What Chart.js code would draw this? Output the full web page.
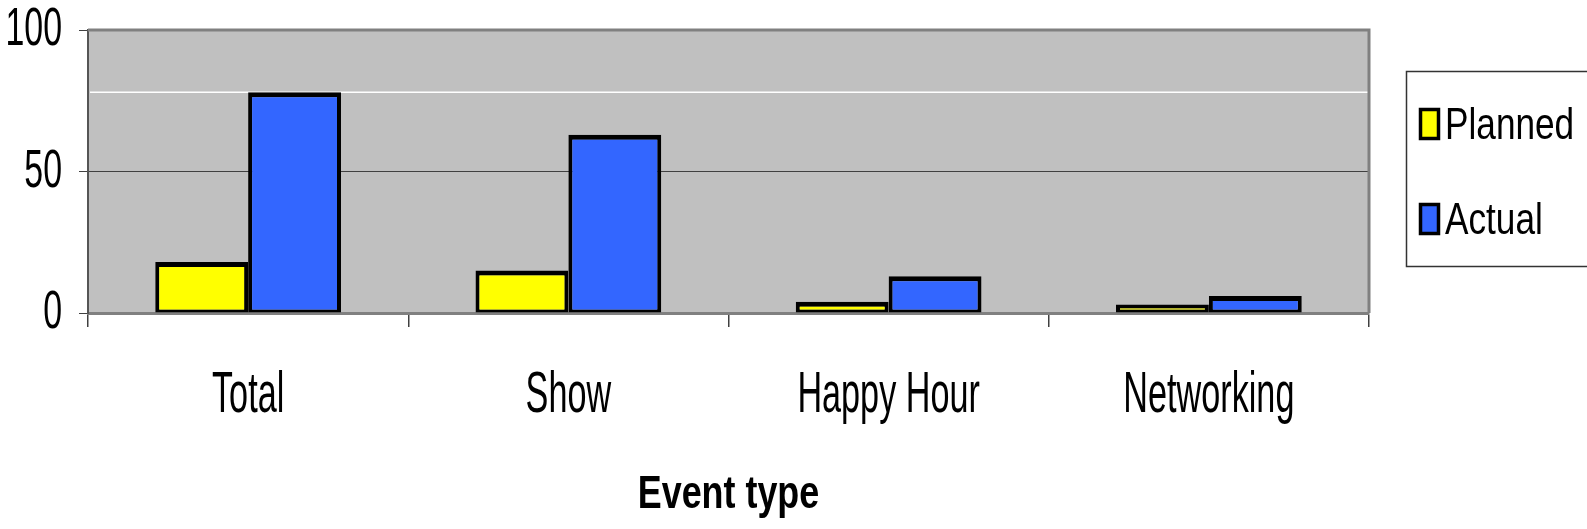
<!DOCTYPE html>
<html>
<head>
<meta charset="utf-8">
<script src="https://cdn.jsdelivr.net/npm/chart.js@4"></script>
<style>
	html, body { margin: 0; padding: 0; background: #fff; }
	#main { width: 1587px; height: 529px; }
</style>
</head>
<body>
<div id="main"><canvas id="chart" width="1587" height="529"></canvas></div>
<script>
const categories = ["Total", "Show", "Happy Hour", "Networking"]
const planned = [18, 15, 4, 3]
const actual = [78, 63, 13, 6]
const yTicks = [0, 50, 100]
const xTitle = "Event type"

const fontFamily = "'Liberation Sans', Arial, sans-serif"

// the original uses a squashed Arial, canvas can do that with a scale
function squeezed(ctx, text, x, y, size, sx, align, bold) {
	ctx.save()
	ctx.font = (bold ? "bold " : "") + size + "px " + fontFamily
	ctx.fillStyle = "#000"
	ctx.textBaseline = "alphabetic"
	ctx.textAlign = align
	ctx.translate(x, y)
	ctx.scale(sx, 1)
	ctx.fillText(text, 0, 0)
	ctx.restore()
}

// grey plot area, its border and the odd white line Excel left behind
const plotArea = {
	id: "plotArea",
	beforeDraw(chart) {
		const {ctx, chartArea: a} = chart
		ctx.save()
		ctx.fillStyle = "#c0c0c0"
		ctx.fillRect(a.left, a.top, a.right - a.left, a.bottom - a.top)
		ctx.restore()
	},
	beforeDatasetsDraw(chart) {
		const {ctx, chartArea: a} = chart
		const y = chart.scales.y.getPixelForValue(actual[0])
		ctx.save()
		ctx.strokeStyle = "#ffffff"
		ctx.lineWidth = 1.5
		ctx.beginPath()
		ctx.moveTo(a.left + 2, y)
		ctx.lineTo(a.right, y)
		ctx.stroke()
		ctx.restore()
	},
	afterDraw(chart) {
		const {ctx, chartArea: a} = chart
		ctx.save()
		ctx.strokeStyle = "#808080"
		ctx.lineWidth = 3
		ctx.beginPath()
		ctx.moveTo(a.left, a.top)
		ctx.lineTo(a.right, a.top)
		ctx.lineTo(a.right, a.bottom)
		ctx.stroke()
		ctx.restore()
	}
}

// tick labels and axis title, placed from the scales
const axisText = {
	id: "axisText",
	afterDraw(chart) {
		const ctx = chart.ctx
		const x = chart.scales.x
		const y = chart.scales.y
		categories.forEach((label, i) => {
			squeezed(ctx, label, x.getPixelForTick(i), 412, 57, 0.6, "center")
		})
		yTicks.forEach(v => {
			squeezed(ctx, String(v), 62, y.getPixelForValue(v) + 15, 53, 0.64, "right")
		})
		squeezed(ctx, xTitle, (x.left + x.right) / 2, 508, 46, 0.78, "center", true)
	}
}

// legend box drawn by hand, Excel style
const boxLegend = {
	id: "boxLegend",
	afterDraw(chart) {
		const ctx = chart.ctx
		ctx.save()
		ctx.strokeStyle = "#333"
		ctx.lineWidth = 1.5
		ctx.strokeRect(1406.5, 71.5, 182, 195)
		chart.data.datasets.forEach((ds, i) => {
			const cy = 124 + i * 95
			ctx.fillStyle = ds.backgroundColor
			ctx.fillRect(1419, cy - 16, 21, 32)
			ctx.strokeStyle = "#000"
			ctx.lineWidth = 3.5
			ctx.strokeRect(1420.5, cy - 14.5, 18, 29)
			squeezed(ctx, ds.label, 1445, cy + 15, 44, 0.8, "left")
		})
		ctx.restore()
	}
}

const barBorder = {top: 5, left: 4, right: 4, bottom: 3}

const chartCtx = document.getElementById("chart").getContext("2d")
let chart = new Chart(chartCtx, {
	type: "bar",
	data: {
		labels: categories,
		datasets: [
			{
				label: "Planned",
				data: planned,
				backgroundColor: "#ffff00",
				borderColor: "#000",
				borderWidth: barBorder,
				borderSkipped: false
			},
			{
				label: "Actual",
				data: actual,
				backgroundColor: "#3366ff",
				borderColor: "#000",
				borderWidth: barBorder,
				borderSkipped: false
			}
		]
	},
	plugins: [plotArea, axisText, boxLegend],
	options: {
		responsive: false,
		animation: false,
		devicePixelRatio: 1,
		layout: {padding: {top: 30, right: 218, left: 0, bottom: 0}},
		datasets: {bar: {barPercentage: 1, categoryPercentage: 0.58}},
		plugins: {
			legend: {display: false},
			tooltip: {enabled: false}
		},
		scales: {
			x: {
				afterFit: scale => { scale.height = 216 },
				grid: {
					display: true,
					drawOnChartArea: false,
					offset: true,
					tickLength: 14,
					color: "#404040",
					lineWidth: 1.5
				},
				border: {display: true, color: "#808080", width: 3},
				ticks: {display: false}
			},
			y: {
				min: 0,
				max: 100,
				afterFit: scale => { scale.width = 88 },
				afterBuildTicks: scale => { scale.ticks = yTicks.map(v => ({value: v})) },
				grid: {
					color: c => c.tick && c.tick.value === 50 ? "#404040" : "rgba(0,0,0,0)",
					tickColor: "#404040",
					tickLength: 9,
					lineWidth: 1
				},
				border: {display: true, color: "#555", width: 2},
				ticks: {display: false}
			}
		}
	}
})
</script>
</body>
</html>
